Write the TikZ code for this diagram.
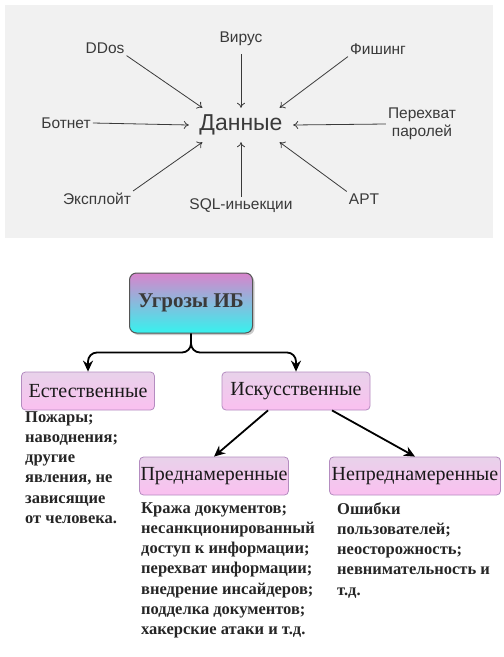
\documentclass[tikz,border=0pt]{standalone}
\usepackage{fontspec}
\setmainfont{Liberation Serif}
\newfontfamily\panelfont{Liberation Sans}
\usetikzlibrary{positioning,arrows.meta,shadows}
\definecolor{panelgray}{HTML}{F1F1F1}
\definecolor{inkgray}{HTML}{3A3A3A}
\definecolor{boxgray}{HTML}{555555}
\definecolor{topviolet}{HTML}{D884CC}
\definecolor{topcyan}{HTML}{36F2EE}
\definecolor{cattop}{HTML}{E8D2EA}
\definecolor{catbottom}{HTML}{FAC0F0}
\definecolor{catborder}{HTML}{B48CC0}

\begin{document}
\begin{tikzpicture}[
    x=1pt, y=-1pt,
    lbl/.style={font=\panelfont\fontsize{15.5}{18}\selectfont,
                text=inkgray, align=center, inner sep=2pt},
    ray/.style={-{To[length=5pt,width=8pt]}, draw=inkgray, line width=0.8pt},
    topbox/.style={draw=boxgray, line width=1pt, rounded corners=7pt,
                   top color=topviolet, bottom color=topcyan,
                   minimum width=123pt, minimum height=60pt,
                   font=\bfseries\fontsize{21}{24}\selectfont, text=inkgray,
                   drop shadow={shadow xshift=2pt, shadow yshift=-2pt,
                                fill=black!40}},
    cat/.style={draw=catborder, line width=0.8pt, rounded corners=4pt,
                top color=cattop, bottom color=catbottom,
                minimum height=38pt, inner xsep=1pt,
                font=\fontsize{20}{22}\selectfont, text=black!90},
    desc/.style={anchor=north west, align=left, inner sep=0pt,
                 font=\bfseries\fontsize{16.5}{20.3}\selectfont, text=black!85},
    brace/.style={-{Stealth[length=11pt,width=10pt]}, line width=1.8pt,
                  rounded corners=9pt},
    arr/.style={-{Stealth[length=11pt,width=10pt]}, line width=1.8pt}
]
  \fill[white] (0,0) rectangle (504,657);
  \useasboundingbox (0,0) rectangle (504,657);
  \fill[panelgray] (5,5) rectangle (493,238);

  % data panel
  \node[lbl, font=\panelfont\fontsize{23}{26}\selectfont,
        minimum width=104pt, minimum height=34pt] (data) at (241,125) {Данные};
  \node[lbl] (ddos)      at (105,48)  {DDos};
  \node[lbl] (virus)     at (241,39)  {Вирус};
  \node[lbl] (phish)     at (378,49)  {Фишинг};
  \node[lbl] (botnet)    at (66,123)  {Ботнет};
  \node[lbl] (intercept) at (422,124) {Перехват\\паролей};
  \node[lbl] (exploit)   at (97,199)  {Эксплойт};
  \node[lbl] (sqli)      at (241,206) {SQL-иньекции};
  \node[lbl] (apt)       at (364,199) {APT};
  \draw[ray] (ddos.south east)    -- (data.156);
  \draw[ray, shorten <=6pt] (virus.south) -- (data.north);
  \draw[ray] (phish.south west)   -- (data.24);
  \draw[ray] (botnet.east)        -- (data.west);
  \draw[ray] (intercept.west)     -- (data.east);
  \draw[ray] (exploit.north east) -- (data.204);
  \draw[ray] (sqli.north)         -- (data.south);
  \draw[ray] (apt.north west)     -- (data.336);

  % threat tree
  \node[topbox] (threats) at (191,303) {Угрозы ИБ};
  \node[cat, minimum width=133pt] (nat)    at (88,391)  {Естественные};
  \node[cat, minimum width=148pt] (art)    at (296,391) {Искусственные};
  \node[cat, minimum width=148pt] (intent) at (214,476) {Преднамеренные};
  \node[cat, minimum width=171pt] (unint)  at (415,476) {Непреднамеренные};
  \draw[brace] (threats.south) -- ++(0,19) -| (nat.north);
  \draw[brace] (threats.south) -- ++(0,19) -| (art.north);
  \draw[arr] ([xshift=-28pt]art.south) -- (intent.north);
  \draw[arr] ([xshift=36pt]art.south)  -- (unint.north);

  \node[desc] (natdesc) at (25,411)
    {Пожары;\\наводнения;\\другие\\явления, не\\зависящие\\от человека.};
  \node[desc] (intentdesc) at (141,502)
    {Кража документов;\\несанкционированный\\доступ к информации;\\перехват информации;\\внедрение инсайдеров;\\подделка документов;\\хакерские атаки и т.д.};
  \node[desc] (unintdesc) at (337,502)
    {Ошибки\\пользователей;\\неосторожность;\\невнимательность и\\т.д.};
\end{tikzpicture}
\end{document}
